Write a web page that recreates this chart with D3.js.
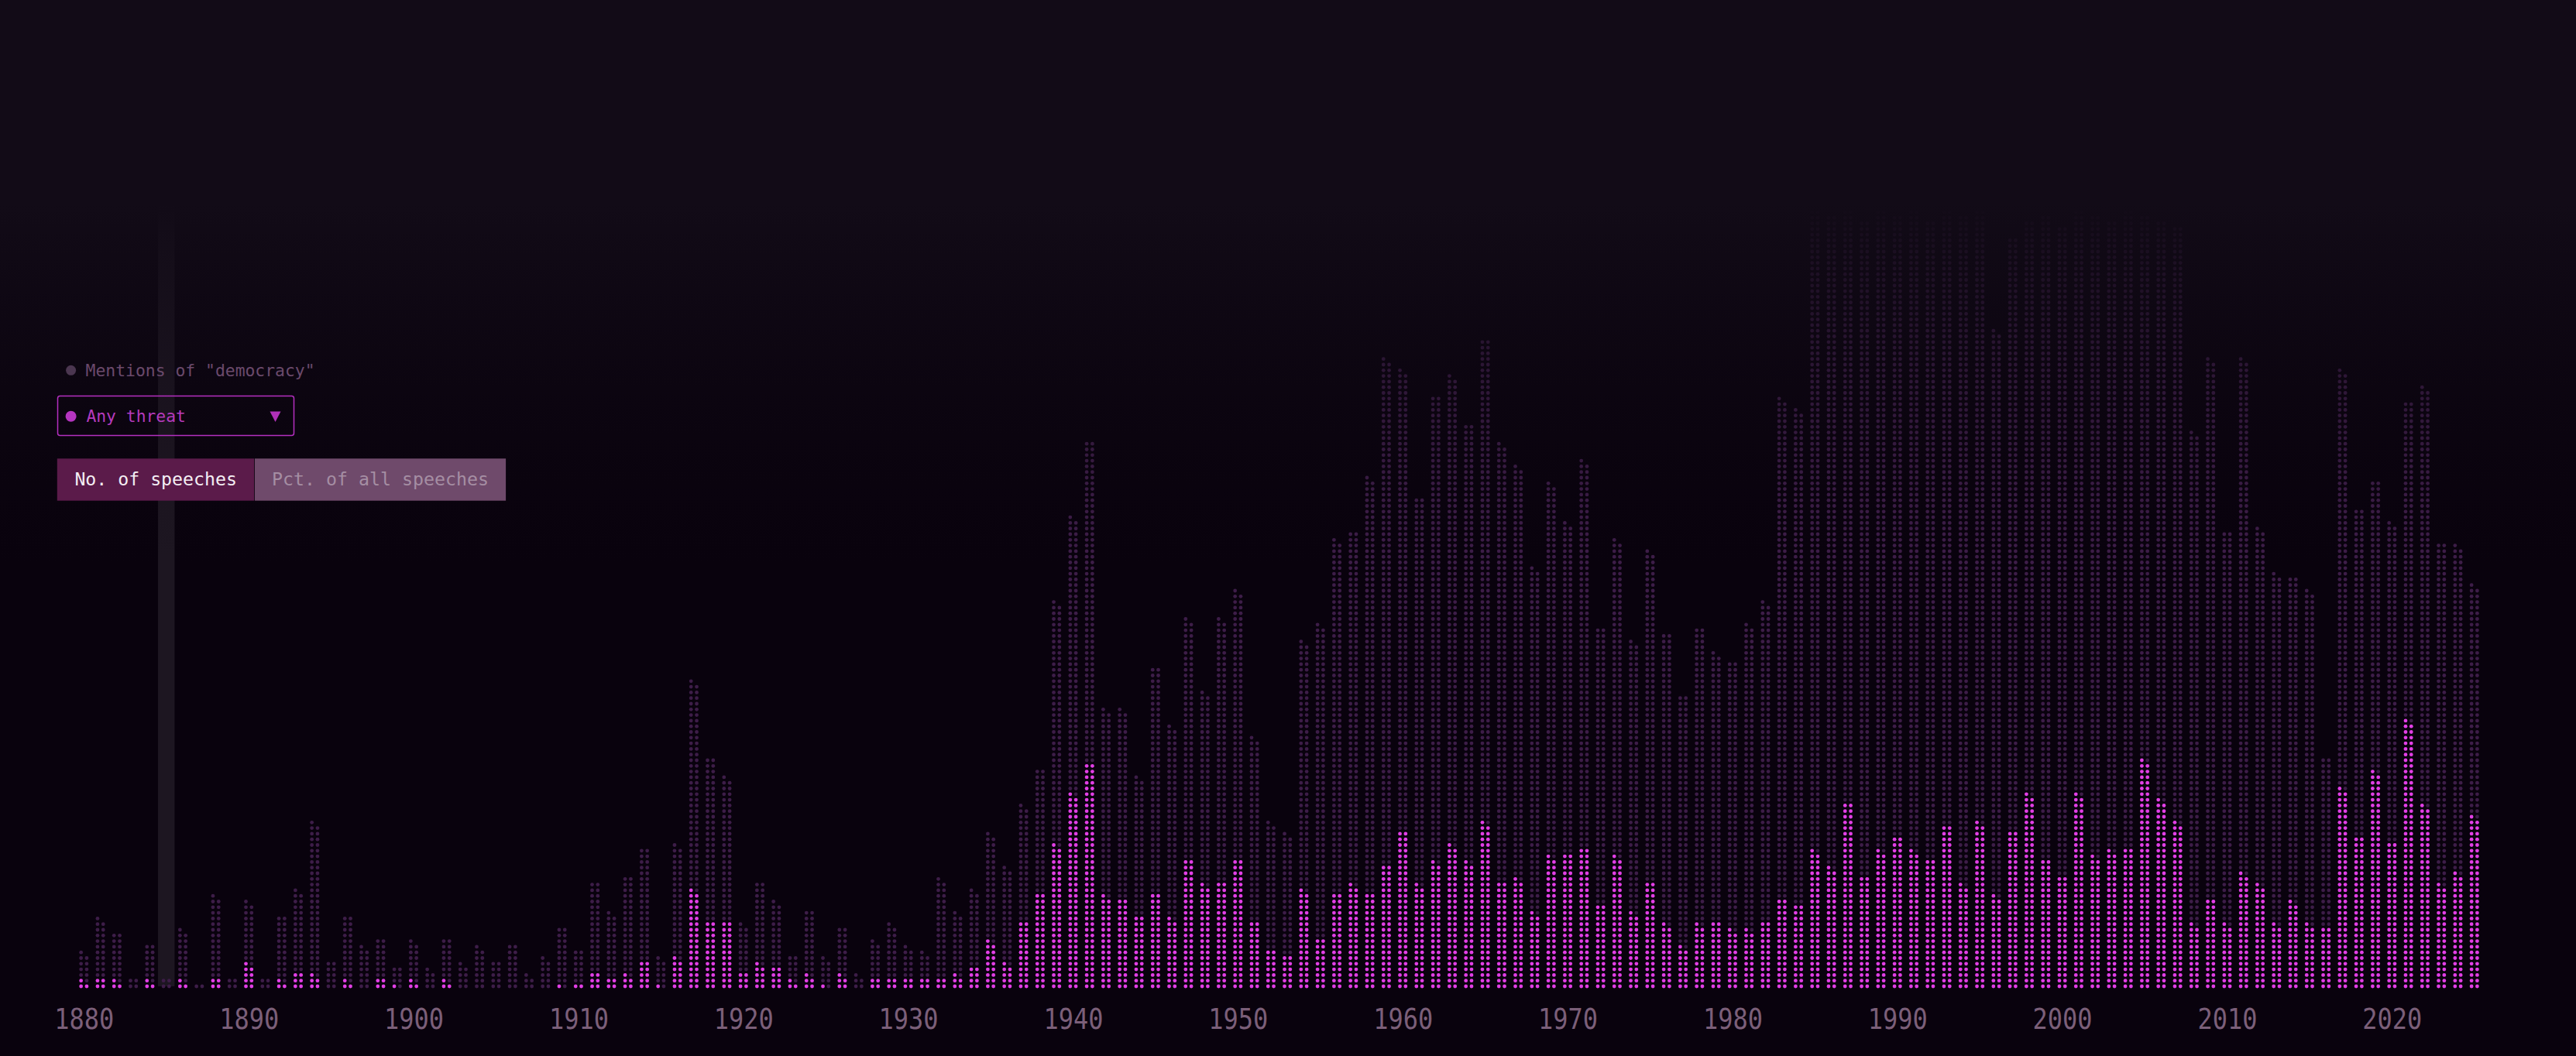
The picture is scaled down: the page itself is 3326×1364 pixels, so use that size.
<!DOCTYPE html>
<html>
<head>
<meta charset="utf-8">
<script src="https://cdn.jsdelivr.net/npm/d3@7"></script>
<style>
  html, body { margin: 0; padding: 0; background: #09020d; overflow: hidden; }
  svg { display: block; }
  text { font-family: "DejaVu Sans Mono", monospace; }
</style>
</head>
<body>
<div id="svg-container"></div>
<script>
//years shown on the chart
const firstYear = 1880
const lastYear = 2025
const tickYears = [1880, 1890, 1900, 1910, 1920, 1930, 1940, 1950, 1960, 1970, 1980, 1990, 2000, 2010, 2020]
const highlightYear = 1885

//speeches mentioning "democracy", one value per year 1880..2025
const democracyCounts = [
  13, 25, 20, 4, 16, 4, 21, 2, 33, 4,            // 1880s
  31, 4, 26, 35, 59, 10, 26, 15, 18, 8,          // 1890s
  17, 7, 18, 9, 15, 10, 16, 5, 11, 22,           // 1900s
  14, 38, 27, 40, 50, 11, 51, 109, 82, 75,       // 1910s
  23, 38, 31, 12, 28, 11, 22, 5, 17, 23,         // 1920s
  15, 13, 39, 27, 35, 55, 43, 65, 78, 137,       // 1930s
  167, 194, 99, 99, 75, 114, 93, 131, 105, 131,  // 1940s
  141, 89, 59, 55, 123, 129, 159, 162, 181, 223, // 1950s
  219, 174, 210, 217, 200, 230, 193, 185, 149, 179, // 1960s
  165, 187, 128, 159, 123, 155, 126, 104, 128, 119, // 1970s
  116, 129, 137, 209, 205, 276, 274, 276, 272, 276, // 1980s
  274, 276, 272, 276, 274, 276, 233, 266, 272, 274, // 1990s
  270, 276, 274, 272, 276, 274, 272, 270, 197, 223, // 2000s
  162, 223, 163, 147, 146, 141, 82, 219, 170, 180,  // 2010s
  165, 208, 213, 158, 157, 143                      // 2020s
]

//of those, speeches that mention any threat
const threatCounts = [
  3, 4, 3, 0, 3, 0, 3, 0, 4, 0,
  9, 0, 3, 6, 5, 0, 3, 0, 4, 1,
  3, 0, 3, 0, 0, 0, 0, 0, 0, 1,
  2, 6, 4, 5, 10, 1, 11, 35, 24, 24,
  6, 9, 8, 3, 5, 1, 5, 0, 4, 4,
  4, 4, 4, 5, 8, 17, 9, 24, 34, 51,
  69, 80, 33, 32, 26, 34, 25, 46, 37, 38,
  46, 24, 14, 12, 35, 18, 34, 37, 34, 44,
  56, 37, 45, 51, 45, 59, 38, 39, 27, 47,
  48, 50, 30, 47, 27, 38, 23, 15, 23, 24,
  21, 21, 24, 32, 30, 49, 43, 66, 40, 49,
  54, 49, 46, 58, 37, 59, 33, 56, 69, 46,
  40, 69, 47, 49, 50, 81, 67, 59, 23, 32,
  23, 41, 37, 23, 31, 23, 22, 71, 54, 77,
  52, 95, 65, 37, 41, 61
]

const years = d3.range(firstYear, lastYear + 1)

//page size
const width = 3326
const height = 1364

//layout
const baseY = 1274
const rowGap = 7.3
const colGap = 7.3
const dotRadius = 2.4

const svg = d3.select('#svg-container')
  .append('svg').attr('width', width).attr('height', height)

const defs = svg.append('defs')

//fade towards the top of the chart
const fade = defs.append('linearGradient')
  .attr('id', 'fade')
  .attr('gradientUnits', 'userSpaceOnUse')
  .attr('x1', 0).attr('y1', 0).attr('x2', 0).attr('y2', height)
const fadeStops = [[0, 1], [265, 1], [330, 0.78], [480, 0.38], [620, 0.12], [730, 0]]
fade.selectAll('stop').data(fadeStops).enter().append('stop')
  .attr('offset', d => d[0] / height)
  .attr('stop-color', '#120b17')
  .attr('stop-opacity', d => d[1])

svg.append('rect').attr('width', width).attr('height', height).attr('fill', '#09020d')

//scales
const xScale = d3.scaleLinear()
  .domain([firstYear, lastYear])
  .range([108.3, 108.3 + (lastYear - firstYear) * 21.286])

const rowScale = d3.scaleLinear()
  .domain([0, 100])
  .range([baseY, baseY - 100 * rowGap])

//hover column
svg.append('rect')
  .attr('x', xScale(highlightYear) - 10.7)
  .attr('y', 250)
  .attr('width', 21.4)
  .attr('height', baseY - 250)
  .attr('fill', '#1d1621')

//one dot per speech, filled row by row (left, right)
const dots = []
years.forEach((year, k) => {
  const n = democracyCounts[k]
  const m = threatCounts[k]
  for (let i = 0; i < n; i++) {
    dots.push({ year: year, col: i % 2, row: Math.floor(i / 2), threat: i < m })
  }
})

const g = svg.append('g')
g.selectAll('circle')
  .data(dots)
  .enter().append('circle')
  .attr('cx', d => xScale(d.year) + (d.col === 0 ? -colGap / 2 : colGap / 2))
  .attr('cy', d => rowScale(d.row))
  .attr('r', dotRadius)
  .attr('fill', d => d.threat ? '#e23fe6' : '#3d1d48')

//overlay that fades the tall columns
svg.append('rect')
  .attr('width', width)
  .attr('height', height)
  .attr('fill', 'url(#fade)')

//x axis
const xAxis = d3.axisBottom(xScale)
  .tickValues(tickYears)
  .tickFormat(d3.format('d'))
  .tickSize(0)
  .tickPadding(0)

const xAxisG = svg.append('g')
  .attr('transform', 'translate(0, 1329)')
  .call(xAxis)
xAxisG.select('.domain').remove()
xAxisG.selectAll('text')
  .attr('y', 0)
  .attr('dy', 0)
  .attr('font-family', '"DejaVu Sans Mono", monospace')
  .attr('font-size', 37.5)
  .attr('fill', '#7b5f79')
  .attr('textLength', 77)
  .attr('lengthAdjust', 'spacingAndGlyphs')

//legend
const legend = svg.append('g')

legend.append('circle')
  .attr('cx', 91.6).attr('cy', 478.3).attr('r', 6.5)
  .attr('fill', '#4b3650')

legend.append('text')
  .attr('x', 110.6).attr('y', 485.7)
  .attr('font-size', 21)
  .attr('fill', '#6b4a6c')
  .attr('textLength', 296)
  .attr('lengthAdjust', 'spacingAndGlyphs')
  .text('Mentions of "democracy"')

//dropdown
legend.append('rect')
  .attr('x', 74.5).attr('y', 511.5)
  .attr('width', 305).attr('height', 51)
  .attr('rx', 3)
  .attr('fill', 'none')
  .attr('stroke', '#b52fc0')
  .attr('stroke-width', 1.5)

legend.append('circle')
  .attr('cx', 91.6).attr('cy', 537.7).attr('r', 7)
  .attr('fill', '#b535c0')

legend.append('text')
  .attr('x', 111.4).attr('y', 544.5)
  .attr('font-size', 21.5)
  .attr('fill', '#b53abd')
  .attr('textLength', 128.5)
  .attr('lengthAdjust', 'spacingAndGlyphs')
  .text('Any threat')

legend.append('path')
  .attr('d', 'M348.5,531.5 L362.5,531.5 L355.5,545 Z')
  .attr('fill', '#b030b8')

//toggle buttons
const buttons = [
  { label: 'No. of speeches', x: 73.8, w: 254.3, tx: 96.4, bg: '#5b1b4a', color: '#f4eef4', len: 209.5 },
  { label: 'Pct. of all speeches', x: 328.9, w: 324.2, tx: 351, bg: '#6f4a6b', color: '#a58ea3', len: 280 }
]
const btn = legend.selectAll('g.btn').data(buttons).enter().append('g').attr('class', 'btn')
btn.append('rect')
  .attr('x', d => d.x).attr('y', 592.3)
  .attr('width', d => d.w).attr('height', 54.4)
  .attr('fill', d => d.bg)
btn.append('text')
  .attr('x', d => d.tx)
  .attr('y', 626.7)
  .attr('font-size', 23.7)
  .attr('font-weight', 500)
  .attr('fill', d => d.color)
  .attr('textLength', d => d.len)
  .attr('lengthAdjust', 'spacingAndGlyphs')
  .text(d => d.label)
</script>
</body>
</html>
